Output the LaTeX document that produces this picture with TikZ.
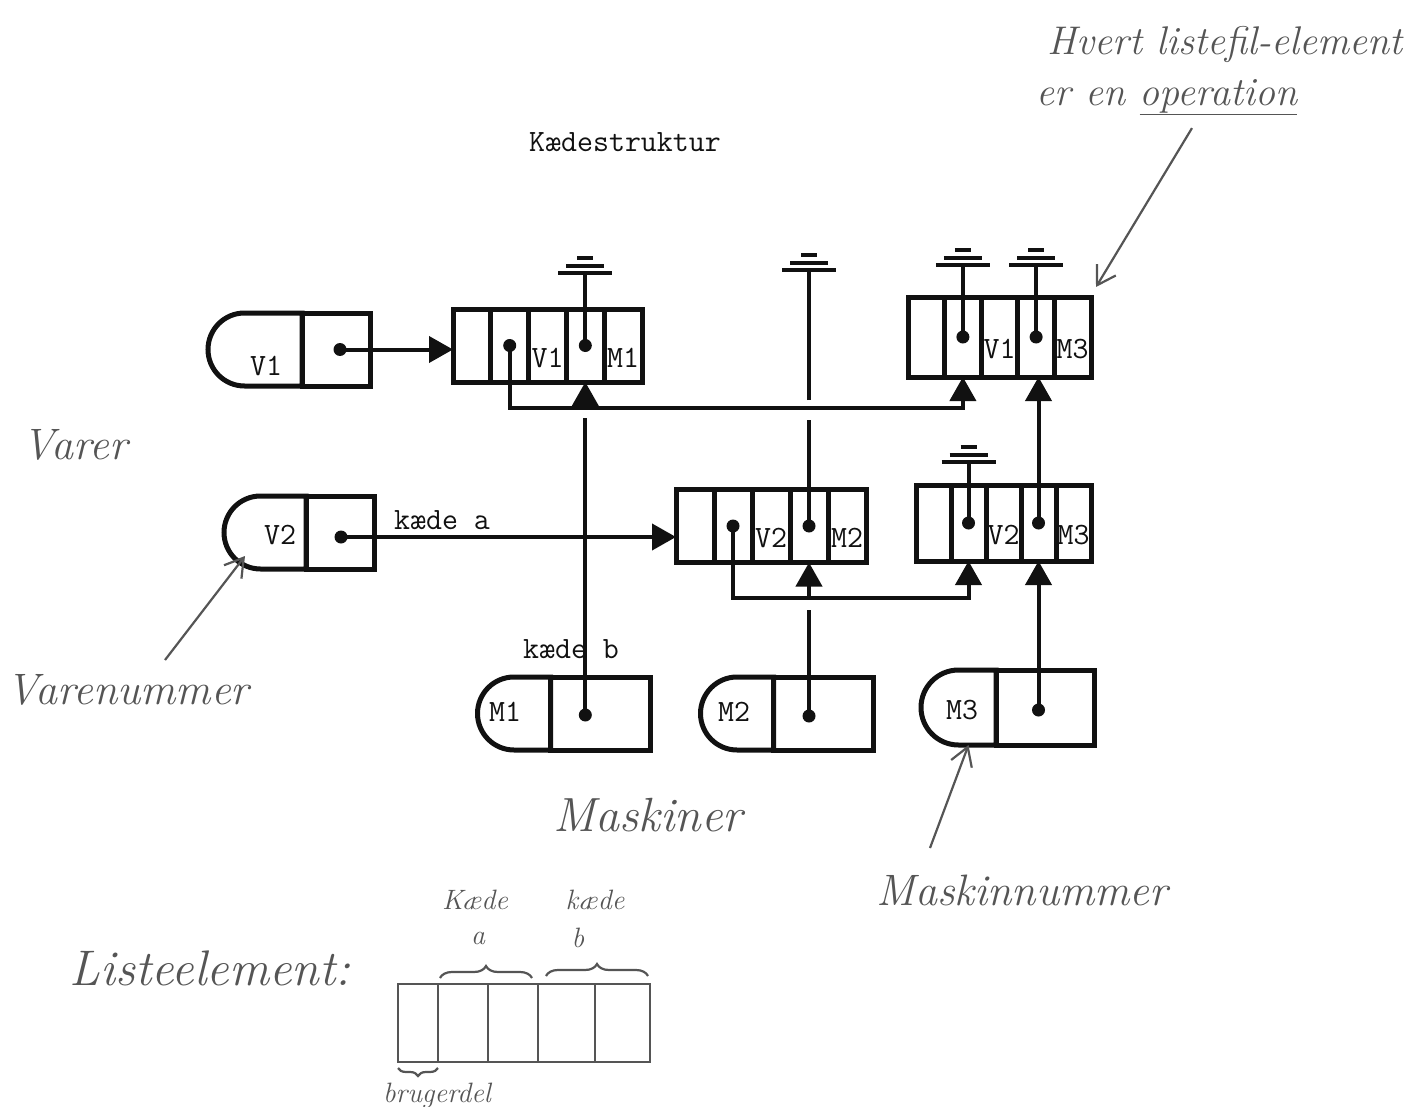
\documentclass[tikz,border=0pt]{standalone}
\usepackage{fontspec}
\usepackage{tikz}
\usetikzlibrary{positioning,shapes.misc,arrows.meta,calc,decorations.pathreplacing}
\definecolor{ink}   {HTML}{111111}
\definecolor{pencil}{HTML}{555555}
\tikzset{
  % --- nodes
  cell/.style  = {rectangle, draw=ink, line width=5pt, outer sep=0pt, inner sep=0pt},
  keyp/.style  = {rounded rectangle, rounded rectangle right arc=none, draw=ink,
                  line width=5pt, outer sep=0pt, inner sep=0pt},
  dot/.style   = {circle, fill=ink, inner sep=0pt, minimum size=13pt},
  tt/.style    = {font=\fontsize{31}{34}\selectfont\ttfamily, text=ink, inner sep=0pt},
  hand/.style  = {font=\fontsize{44}{48}\selectfont\itshape, text=pencil, inner sep=0pt},
  shand/.style = {hand, font=\fontsize{28}{30}\selectfont\itshape},
  sketch/.style= {rectangle, draw=pencil, line width=2.4pt, outer sep=0pt, inner sep=0pt,
                  minimum height=78pt},
  % --- edges
  ptr/.style   = {draw=ink, line width=4pt},
  pa/.style    = {ptr, -{Triangle[width=26pt,length=24pt]}},
  gbar/.style  = {draw=ink, line width=4pt},
  harrow/.style= {draw=pencil, line width=2.2pt,
                  -{Straight Barb[length=18pt,width=22pt,line width=2.2pt]}},
  hbrace/.style= {draw=pencil, line width=2.2pt, decorate,
                  decoration={brace, amplitude=12pt}},
}
% ground (nil pointer)
\newcommand{\gnd}[2]{%
  \coordinate (#1) at (#2);
  \draw[gbar] ([xshift=-27pt]#1) -- ([xshift=27pt]#1);
  \draw[gbar] ([xshift=-19pt,yshift=7pt]#1) -- ([xshift=19pt,yshift=7pt]#1);
  \draw[gbar] ([xshift=-8pt,yshift=15pt]#1) -- ([xshift=8pt,yshift=15pt]#1);
}
% list element: name, left middle, cell width, height, V, M
\newcommand{\elem}[6]{%
  \node[cell, minimum width=#3, minimum height=#4, anchor=west] (#1-1) at (#2) {};
  \node[cell, minimum width=#3, minimum height=#4, right=0pt of #1-1] (#1-2) {};
  \node[cell, minimum width=#3, minimum height=#4, right=0pt of #1-2] (#1-3) {};
  \node[cell, minimum width=#3, minimum height=#4, right=0pt of #1-3] (#1-4) {};
  \node[cell, minimum width=#3, minimum height=#4, right=0pt of #1-4] (#1-5) {};
  \node[dot] (#1a) at (#1-2) {};
  \node[dot] (#1b) at (#1-4) {};
  \node[tt] (#1-v) at ([yshift=-12pt]#1-3) {#5};
  \node[tt] (#1-m) at ([yshift=-12pt]#1-5) {#6};
}

\begin{document}
\begin{tikzpicture}[x=1pt, y=-1pt]
  \useasboundingbox (0,0) rectangle (1421,1107);

  \node[tt] (title) at (625,142) {Kædestruktur};

  % heads
  \node[keyp, minimum width=94pt, minimum height=73pt] (v1k) at (255,349.5) {};
  \node[cell, minimum width=68pt, minimum height=73pt, right=0pt of v1k] (v1p) {};
  \node[tt] (v1l) at (266,366) {V1};
  \node[dot] (v1d) at (340,349.5) {};

  \node[keyp, minimum width=82pt, minimum height=73pt] (v2k) at (265,532.5) {};
  \node[cell, minimum width=68pt, minimum height=73pt, right=0pt of v2k] (v2p) {};
  \node[tt] (v2l) at (280,535) {V2};
  \node[dot] (v2d) at (341,537) {};

  % list elements
  \elem{e1}{453,345.5}{37.8pt}{73pt}{V1}{M1}
  \elem{e2}{676,526}{38pt}{73pt}{V2}{M2}
  \elem{e3}{908,337}{36.6pt}{80pt}{V1}{M3}
  \elem{e4}{916,523}{35pt}{76pt}{V2}{M3}

  \node[keyp, minimum width=68pt, minimum height=73pt] (m1k) at (514,713.5) {};
  \node[cell, minimum width=100pt, minimum height=73pt, right=0pt of m1k] (m1p) {};
  \node[tt] (m1l) at (505,712) {M1};
  \node[dot] (m1d) at (e1-4 |- 0,715) {};

  \node[keyp, minimum width=58pt, minimum height=73pt] (m2k) at (737,713.5) {};
  \node[cell, minimum width=100pt, minimum height=73pt, right=0pt of m2k] (m2p) {};
  \node[tt] (m2l) at (734,712) {M2};
  \node[dot] (m2d) at (e2-4 |- 0,716) {};

  \node[keyp, minimum width=69pt, minimum height=75pt] (m3k) at (958.5,707.5) {};
  \node[cell, minimum width=98pt, minimum height=75pt, right=0pt of m3k] (m3p) {};
  \node[tt] (m3l) at (962,710) {M3};
  \node[dot] (m3d) at (e4-4 |- 0,710) {};

  % chain a
  \coordinate (bus1) at (700,408);
  \coordinate (bus2) at (850,598);
  \draw[pa] (v1d.center) -- (v1d -| e1-1.west);
  \draw[pa] (v2d.center) -- (v2d -| e2-1.west);
  \node[tt] (ka) at (442,520) {kæde a};
  \draw[pa] (e1a.center) |- (bus1) -| (e3-2.south);
  \draw[pa] (e2a.center) |- (bus2) -| (e4-2.south);

  % chain b
  \draw[ptr] (m1d.center) -- ($(m1d |- bus1)+(0,10)$);
  \draw[pa] ($(m1d |- bus1)+(0,-2)$) -- (e1-4.south);
  \node[tt] (kb) at (571,649) {kæde b};
  \draw[ptr] (m2d.center) -- ($(m2d |- bus2)+(0,12)$);
  \draw[pa] ($(m2d |- bus2)+(0,-2)$) -- (e2-4.south);
  \draw[pa] (m3d.center) -- (e4-4.south);
  \draw[pa] (e4b.center) -- (e4b |- e3-4.south);

  % nil
  \gnd{g1}{e1b |- 0,273}
  \draw[ptr] (e1b.center) -- (g1);
  \gnd{g2}{e2b |- 0,270}
  \draw[ptr] (e2b.center) -- ($(e2b |- bus1)+(0,12)$);
  \draw[ptr] ($(e2b |- bus1)+(0,-8)$) -- (g2);
  \gnd{g3}{e3a |- 0,265}
  \draw[ptr] (e3a.center) -- (g3);
  \gnd{g4}{e3b |- 0,265}
  \draw[ptr] (e3b.center) -- (g4);
  \gnd{g5}{e4a |- 0,462}
  \draw[ptr] (e4a.center) -- (g5);

  % pencil notes
  \node[hand, font=\fontsize{40}{42}\selectfont\itshape] (hv) at (1225,45) {Hvert listefil-element};
  \node[hand, font=\fontsize{40}{42}\selectfont\itshape] (op) at (1167,97) {er en \underline{operation}};
  \draw[harrow] ($(op.south)+(25,13)$) -- ($(e3-5.north east)+(5,-10)$);

  \node[hand] (varer) at (75,445) {Varer};
  \node[hand] (vnr) at (128,690) {Varenummer};
  \draw[harrow] ($(vnr)+(37,-30)$) -- ($(v2k.south)+(-20,-13)$);

  \node[hand, font=\fontsize{48}{50}\selectfont\itshape] (mask) at (648,815) {Maskiner};
  \node[hand] (mnr) at (1022,890) {Maskinnummer};
  \draw[harrow] ($(mnr)+(-92,-42)$) -- ($(m3k.south)+(10,0)$);

  \node[hand, font=\fontsize{50}{52}\selectfont\itshape] (le) at (210,968) {Listeelement:};
  \node[sketch, minimum width=40pt, anchor=west] (l1) at (398,1023) {};
  \node[sketch, minimum width=50pt, right=0pt of l1] (l2) {};
  \node[sketch, minimum width=50pt, right=0pt of l2] (l3) {};
  \node[sketch, minimum width=57pt, right=0pt of l3] (l4) {};
  \node[sketch, minimum width=55pt, right=0pt of l4] (l5) {};
  \draw[hbrace] ($(l2.north west)+(2,-6)$) -- ($(l3.north east)+(-6,-6)$);
  \draw[hbrace] ($(l4.north west)+(8,-8)$) -- ($(l5.north east)+(-2,-8)$);
  \draw[hbrace, decoration={brace, amplitude=8pt}] ($(l1.south east)+(0,6)$) -- ($(l1.south west)+(0,6)$);
  \node[shand] (ka2) at (475,900) {Kæde};
  \node[shand] (a2) at (478,938) {a};
  \node[shand] (kb2) at (595,900) {kæde};
  \node[shand] (b2) at (578,938) {b};
  \node[shand] (bd) at (437,1096) {brugerdel};
\end{tikzpicture}
\end{document}
